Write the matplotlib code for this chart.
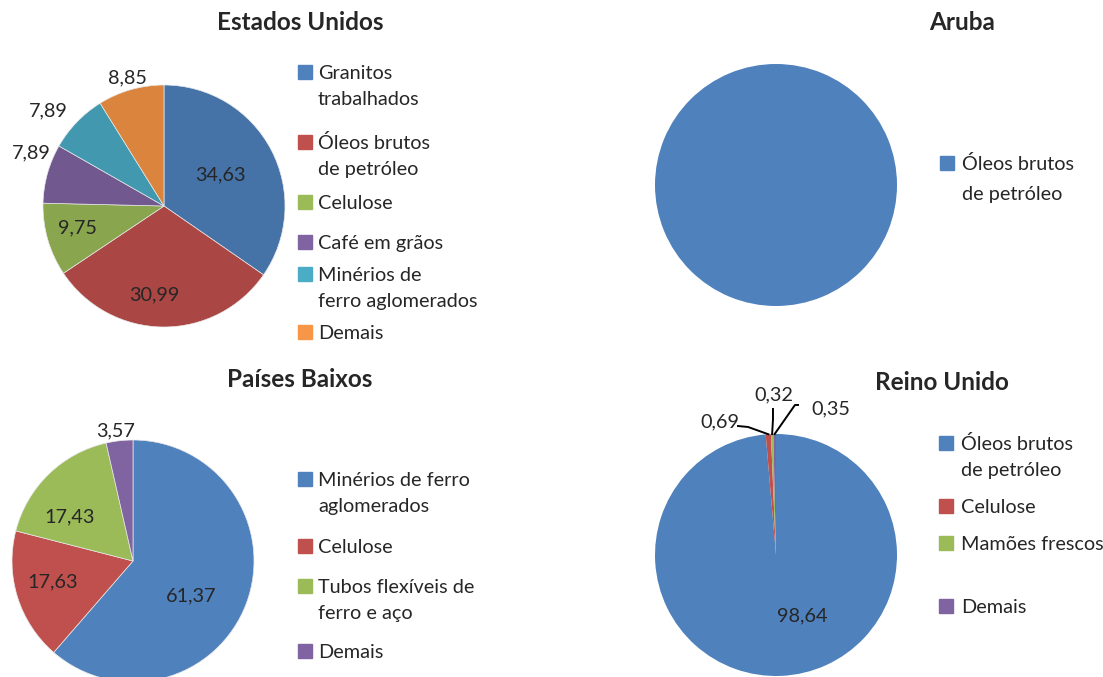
import numpy as np
import matplotlib
matplotlib.use('Agg')
import matplotlib.pyplot as plt
from matplotlib.patches import Rectangle

plt.rcParams['font.family'] = ['Lato', 'DejaVu Sans']

W, H = 1103, 677

# dados (%)
eua_labels = ['Granitos\ntrabalhados', 'Óleos brutos\nde petróleo', 'Celulose',
              'Café em grãos', 'Minérios de\nferro aglomerados', 'Demais']
eua_vals = [34.63, 30.99, 9.75, 7.89, 7.89, 8.85]

aruba_labels = ['Óleos brutos\nde petróleo']
aruba_vals = [100.0]

pb_labels = ['Minérios de ferro\naglomerados', 'Celulose',
             'Tubos flexíveis de\nferro e aço', 'Demais']
pb_vals = [61.37, 17.63, 17.43, 3.57]

ru_labels = ['Óleos brutos\nde petróleo', 'Celulose', 'Mamões frescos', 'Demais']
ru_vals = [98.64, 0.69, 0.32, 0.35]

# cores
c_eua = ['#4572A7', '#AA4643', '#89A54E', '#71588F', '#4198AF', '#DB843D']
c_eua_leg = ['#4F81BD', '#C0504D', '#9BBB59', '#8064A2', '#4BACC6', '#F79646']
c_std = ['#4F81BD', '#C0504D', '#9BBB59', '#8064A2']

fig = plt.figure(figsize=(W / 100, H / 100), dpi=100)
fig.patch.set_facecolor('white')

FS = 14.3
TXT = '#262626'


def fx(x):
    return x / W


def fy(y):
    return 1 - y / H


def pie_axes(cx, cy, r=121):
    ax = fig.add_axes([fx(cx - r), fy(cy + r), 2 * r / W, 2 * r / H])
    ax.set_xlim(-1, 1)
    ax.set_ylim(-1, 1)
    ax.axis('off')
    return ax


def draw_pie(ax, vals, colors, lbl_pos, edge=0.5):
    wedges, _ = ax.pie(vals, colors=colors, startangle=90, counterclock=False,
                       radius=1, wedgeprops=dict(linewidth=edge, edgecolor='#e8e8e8'))
    for w in wedges:
        w.set_clip_on(False)
    ax.set_xlim(-1, 1)
    ax.set_ylim(-1, 1)
    for v, (x, y) in zip(vals, lbl_pos):
        ax.text(x, y, ('%.2f' % v).replace('.', ','), ha='center', va='center',
                fontsize=FS, color=TXT)
    return wedges


def legend(x_sq, x_txt, ys, labels, colors, line_h=26):
    for y, lab, c in zip(ys, labels, colors):
        fig.patches.append(Rectangle((fx(x_sq), fy(y + 7)), 14 / W, 14 / H,
                                     transform=fig.transFigure, color=c))
        for i, line in enumerate(lab.split('\n')):
            fig.text(fx(x_txt), fy(y + 7 + i * line_h), line, fontsize=FS,
                     ha='left', va='baseline', color=TXT)


def title(x, y, s):
    fig.text(fx(x), fy(y), s, fontsize=17.5, fontweight='bold', ha='center',
             va='center', color=TXT)


# Estados Unidos
ax1 = pie_axes(164, 206)
draw_pie(ax1, eua_vals, c_eua,
         [(0.463, 0.256), (-0.083, -0.736), (-0.719, -0.182),
          (-1.099, 0.438), (-0.959, 0.785), (-0.306, 1.058)])
title(300, 22, 'Estados Unidos')
legend(298, 318, [72, 142, 202, 242, 274, 332], eua_labels, c_eua_leg)

# Aruba
ax2 = pie_axes(776, 185)
ax2.pie(aruba_vals, colors=c_std[:1], startangle=90, counterclock=False, radius=1)
ax2.set_xlim(-1, 1)
ax2.set_ylim(-1, 1)
title(962, 22, 'Aruba')
legend(940, 962, [163], aruba_labels, c_std[:1], line_h=30)

# Países Baixos
ax3 = pie_axes(133, 561)
draw_pie(ax3, pb_vals, c_std,
         [(0.479, -0.289), (-0.661, -0.174), (-0.521, 0.364), (-0.140, 1.074)])
title(300, 380, 'Países Baixos')
legend(298, 318, [479, 546, 586, 651], pb_labels, c_std)

# Reino Unido
ax4 = pie_axes(776, 555)
wedges = draw_pie(ax4, ru_vals, c_std,
                  [(0.215, -0.504), (-0.463, 1.099), (-0.017, 1.322), (0.45, 1.21)],
                  edge=0)
# linhas de chamada dos rótulos pequenos
elbows = [[(-0.314, 1.066), (-0.231, 1.058)],
          [(-0.025, 1.207), (-0.025, 1.12)],
          [(0.182, 1.24), (0.157, 1.24)]]
for w, pts in zip(wedges[1:], elbows):
    ang = np.deg2rad((w.theta1 + w.theta2) / 2)
    end = (np.cos(ang), np.sin(ang))
    xs = [p[0] for p in pts] + [end[0]]
    ys = [p[1] for p in pts] + [end[1]]
    ax4.plot(xs, ys, color='black', lw=1.4, clip_on=False)
title(942, 382, 'Reino Unido')
legend(939, 961, [443, 506, 543, 606], ru_labels, c_std)

fig.savefig('out.png', dpi=100, facecolor='white')
